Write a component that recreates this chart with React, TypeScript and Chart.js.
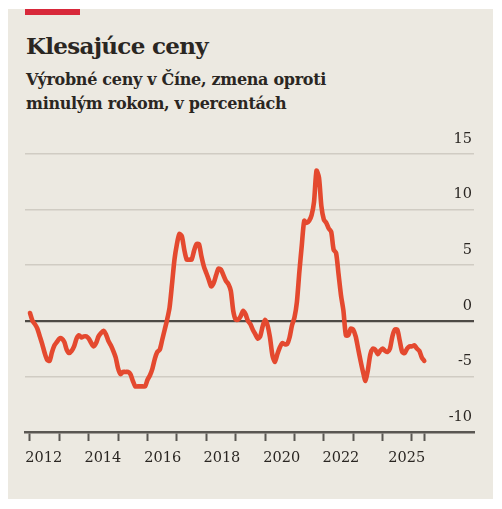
import React, { useEffect, useRef } from "react";
import { Chart, registerables } from "chart.js";

Chart.register(...registerables);

// China producer price index, y/y change in %, monthly (Jan..Dec)
const startYear = 2012;
const ppi2012 = [0.7, 0.0, -0.3, -0.7, -1.4, -2.1, -2.9, -3.5, -3.6, -2.8, -2.2, -1.9];
const ppi2013 = [-1.6, -1.6, -1.9, -2.6, -2.9, -2.7, -2.3, -1.6, -1.3, -1.5, -1.4, -1.4];
const ppi2014 = [-1.6, -2.0, -2.3, -2.0, -1.4, -1.1, -0.9, -1.2, -1.8, -2.2, -2.7, -3.3];
const ppi2015 = [-4.3, -4.8, -4.6, -4.6, -4.6, -4.8, -5.4, -5.9, -5.9, -5.9, -5.9, -5.9];
const ppi2016 = [-5.3, -4.9, -4.3, -3.4, -2.8, -2.6, -1.7, -0.8, 0.1, 1.2, 3.3, 5.5];
const ppi2017 = [6.9, 7.8, 7.6, 6.4, 5.5, 5.5, 5.5, 6.3, 6.9, 6.9, 5.8, 4.9];
const ppi2018 = [4.3, 3.7, 3.1, 3.4, 4.1, 4.7, 4.6, 4.1, 3.6, 3.3, 2.7, 0.9];
const ppi2019 = [0.1, 0.1, 0.4, 0.9, 0.6, 0.0, -0.3, -0.8, -1.2, -1.6, -1.4, -0.5];
const ppi2020 = [0.1, -0.4, -1.5, -3.1, -3.7, -3.0, -2.4, -2.0, -2.1, -2.1, -1.5, -0.4];
const ppi2021 = [0.3, 1.7, 4.4, 6.8, 9.0, 8.8, 9.0, 9.5, 10.7, 13.5, 12.9, 10.3];
const ppi2022 = [9.1, 8.8, 8.3, 8.0, 6.4, 6.1, 4.2, 2.3, 0.9, -1.3, -1.3, -0.7];
const ppi2023 = [-0.8, -1.4, -2.5, -3.6, -4.6, -5.4, -4.4, -3.0, -2.5, -2.6, -3.0, -2.7];
const ppi2024 = [-2.5, -2.7, -2.8, -2.5, -1.4, -0.8, -0.8, -1.8, -2.8, -2.9, -2.5, -2.3];
const ppi2025 = [-2.3, -2.2, -2.5, -2.7, -3.3, -3.6];

const yearlySeries = [
  ppi2012, ppi2013, ppi2014, ppi2015, ppi2016, ppi2017, ppi2018,
  ppi2019, ppi2020, ppi2021, ppi2022, ppi2023, ppi2024, ppi2025,
];

// axis ticks
const yTickValues = [-10, -5, 0, 5, 10, 15];
const yearTickValues = [2012, 2013, 2014, 2015, 2016, 2017, 2018, 2019, 2020, 2021, 2022, 2023, 2024, 2025];
const xLabels = ["2012", "2014", "2016", "2018", "2020", "2022", "2025"];
const xLabelAt = [2012.47, 2014.48, 2016.52, 2018.53, 2020.57, 2022.58, 2024.82];

const TEXT = "#2a2622";
const FONT = "'DejaVu Serif', serif";

export default function App() {
  const canvasRef = useRef<HTMLCanvasElement | null>(null);

  useEffect(() => {
    const canvas = canvasRef.current;
    if (!canvas) return;

    const points: { x: number; y: number }[] = [];
    yearlySeries.forEach((arr, yi) => {
      arr.forEach((v, m) => points.push({ x: startYear + yi + m / 12, y: v }));
    });
    const lastX = points[points.length - 1].x;

    const tickDefs: { value: number; label: string; mark: boolean }[] = [];
    yearTickValues.forEach((v) => tickDefs.push({ value: v, label: "", mark: true }));
    tickDefs.push({ value: lastX, label: "", mark: true });
    xLabels.forEach((l, i) => tickDefs.push({ value: xLabelAt[i], label: l, mark: false }));

    const chart = new Chart(canvas, {
      type: "line",
      data: {
        datasets: [
          {
            data: points,
            borderColor: "#e4492f",
            borderWidth: 4.6,
            pointRadius: 0,
            tension: 0.25,
            borderJoinStyle: "round",
            borderCapStyle: "round",
            fill: false,
          },
        ],
      },
      options: {
        responsive: false,
        animation: false,
        layout: { padding: { left: 17, right: 19, top: 34, bottom: 0 } },
        plugins: { legend: { display: false }, tooltip: { enabled: false } },
        scales: {
          x: {
            type: "linear",
            min: 2011.83,
            max: 2027.11,
            afterBuildTicks: (scale: any) => {
              scale.ticks = tickDefs.map((t) => ({ value: t.value }));
            },
            afterFit: (scale: any) => {
              scale.height = 67;
            },
            ticks: {
              autoSkip: false,
              maxRotation: 0,
              minRotation: 0,
              padding: 9,
              color: TEXT,
              font: { family: FONT, size: 14.5 },
              callback: (_v: any, i: number) => tickDefs[i]?.label ?? "",
            },
            grid: {
              drawOnChartArea: false,
              drawTicks: true,
              tickLength: 9,
              tickWidth: 2,
              tickColor: (ctx: any) => (tickDefs[ctx.index]?.mark ? "#5a5752" : "rgba(0,0,0,0)"),
            },
            border: { display: true, color: "#5a5752", width: 2.5 },
          },
          y: {
            position: "right",
            min: -10,
            max: 15,
            afterBuildTicks: (scale: any) => {
              scale.ticks = yTickValues.map((v) => ({ value: v }));
            },
            afterFit: (scale: any) => {
              scale.width = 0;
            },
            ticks: {
              mirror: true,
              padding: -2,
              labelOffset: -15,
              color: TEXT,
              font: { family: FONT, size: 14.5 },
              callback: (v: any) => String(v),
            },
            grid: {
              drawTicks: false,
              color: (ctx: any) =>
                ctx.tick?.value === 0 ? "#4d4a45" : ctx.tick?.value === -10 ? "rgba(0,0,0,0)" : "#d0ccc3",
              lineWidth: (ctx: any) => (ctx.tick?.value === 0 ? 2.2 : 1.6),
            },
            border: { display: false },
          },
        },
      },
    });
    return () => chart.destroy();
  }, []);

  return (
    <div style={{ position: "relative", width: 485, height: 492 }}>
      <div
        style={{
          position: "absolute",
          left: 0,
          top: 1,
          width: 485,
          height: 490,
          background: "#ece9e1",
        }}
      />
      <div
        style={{
          position: "absolute",
          left: 17,
          top: 1,
          width: 55,
          height: 6,
          background: "#d8283a",
        }}
      />
      <div
        style={{
          position: "absolute",
          left: 18,
          top: 25.5,
          fontFamily: FONT,
          fontWeight: "bold",
          fontSize: 23,
          lineHeight: "23px",
          color: TEXT,
          whiteSpace: "nowrap",
          letterSpacing: "-0.7px",
        }}
      >
        Klesajúce ceny
      </div>
      <div
        style={{
          position: "absolute",
          left: 18,
          top: 59.5,
          fontFamily: FONT,
          fontWeight: "bold",
          fontSize: 16,
          lineHeight: "24px",
          color: TEXT,
          whiteSpace: "nowrap",
          letterSpacing: "-0.3px",
        }}
      >
        <div>Výrobné ceny v Číne, zmena oproti</div>
        <div>minulým rokom, v percentách</div>
      </div>
      <canvas
        ref={canvasRef}
        width={485}
        height={379}
        style={{ position: "absolute", left: 0, top: 112, width: 485, height: 379 }}
      />
    </div>
  );
}
